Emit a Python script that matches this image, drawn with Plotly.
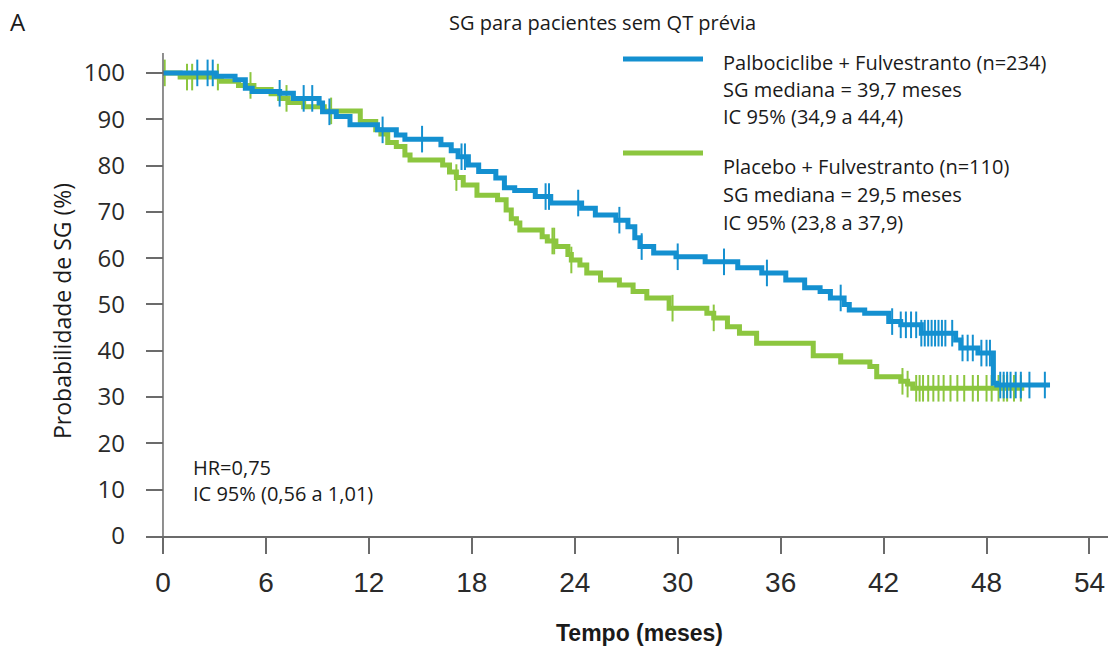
import numpy as np
import plotly.graph_objects as go

# ---- data ----
palbo_t = [0, 3.1, 4.2, 4.8, 5.2, 6.8, 7.6, 9.1, 9.3, 10.1, 10.9, 12.5, 13.6, 14.1, 16.2, 16.8,
           17.2, 17.8, 18.4, 19.4, 19.9, 20.5, 21.7, 22.6, 24.4, 25.2, 26.4, 27.1, 27.5, 27.8,
           28.6, 29.9, 31.6, 33.5, 34.9, 36.3, 37.4, 38.3, 38.9, 39.7, 40.0, 40.9, 42.3, 43.0,
           44.2, 46.2, 46.5, 47.5, 48.4, 48.6, 51.7]
palbo_s = [100, 99.3, 98.5, 96.7, 96.0, 95.6, 94.5, 93.5, 91.6, 90.6, 88.8, 87.7, 86.6, 85.7, 84.5, 83.2,
           81.9, 80.1, 78.7, 77.3, 75.2, 74.6, 73.3, 71.9, 70.8, 69.3, 68.2, 66.8, 64.4, 62.5,
           61.1, 60.3, 59.2, 57.9, 56.8, 55.3, 53.6, 52.8, 51.4, 50.0, 48.8, 48.1, 46.3, 45.6,
           43.8, 42.3, 40.6, 39.5, 33.0, 32.6, 32.6]
palbo_cens = [2.0, 2.6, 2.9, 6.8, 8.2, 8.7, 9.7, 12.8, 15.1, 17.4, 17.6, 22.3, 22.5, 24.2, 26.6,
              27.9, 30.0, 32.7, 35.2, 39.5, 42.5, 43.0, 43.3, 43.6, 43.9, 44.2, 44.4, 44.6, 44.8,
              45.0, 45.2, 45.4, 45.6, 46.0, 46.6, 46.9, 47.2, 47.7, 48.0, 48.2, 48.8, 49.0, 49.2,
              49.4, 49.7, 50.0, 50.5, 51.4]

plac_t = [0, 1.0, 3.4, 4.4, 5.3, 6.3, 6.8, 7.3, 8.2, 9.4, 11.5, 12.4, 12.7, 13.1, 13.6, 14.1, 14.4,
          16.3, 16.7, 17.1, 17.5, 18.3, 19.5, 20.0, 20.3, 20.6, 20.8, 22.1, 22.4, 22.9, 23.6, 23.8,
          24.3, 24.7, 25.5, 26.6, 27.4, 28.2, 29.5, 31.7, 32.1, 32.9, 33.6, 34.6, 37.9, 39.5, 41.2,
          41.6, 43.0, 43.4, 43.7, 50.2]
plac_s = [100, 99.1, 98.2, 97.3, 96.4, 95.5, 94.5, 93.6, 92.7, 91.8, 89.5, 87.7, 86.8, 85.0, 84.1, 82.3, 81.2,
          80.1, 78.6, 77.4, 75.8, 73.6, 72.6, 70.4, 68.5, 67.6, 66.1, 64.6, 63.7, 62.5, 60.8, 59.6,
          58.5, 56.8, 55.3, 54.2, 52.8, 51.4, 49.2, 48.1, 47.1, 45.2, 43.8, 41.6, 38.9, 37.6, 36.6,
          34.4, 33.4, 32.8, 31.9, 31.9]
plac_cens = [0.1, 1.4, 1.7, 3.2, 5.1, 7.2, 9.8, 17.1, 22.7, 22.8, 23.8, 29.7, 32.1, 43.1, 43.4,
             43.9, 44.1, 44.3, 44.6, 44.9, 45.2, 45.5, 45.9, 46.3, 46.7, 47.2, 47.5, 48.0, 48.3,
             48.7, 49.0, 49.2, 49.6, 50.0]

x_ticks = [0, 6, 12, 18, 24, 30, 36, 42, 48, 54]
y_ticks = [0, 10, 20, 30, 40, 50, 60, 70, 80, 90, 100]

BLUE = "#1490d0"
GREEN = "#8cc63f"
AX = "#6b6b6b"
TXT = "#1a1a1a"

XMIN, XMAX = -0.99, 55.08
YMIN, YMAX = 0, 104.3


def step_at(ts, ss, q):
    idx = np.searchsorted(np.array(ts), np.array(q), side="right") - 1
    return np.array(ss)[idx]


fig = go.Figure()
for t, s, c, col in [(plac_t, plac_s, plac_cens, GREEN), (palbo_t, palbo_s, palbo_cens, BLUE)]:
    fig.add_trace(go.Scatter(x=t, y=s, mode="lines", line=dict(color=col, width=5, shape="hv"),
                             showlegend=False, hoverinfo="skip"))
    fig.add_trace(go.Scatter(x=c, y=step_at(t, s, c), mode="markers",
                             marker=dict(symbol="line-ns", size=19, line=dict(color=col, width=2)),
                             showlegend=False, hoverinfo="skip"))

fig.update_layout(
    width=1111, height=649,
    margin=dict(l=146, r=3, t=53, b=113),
    paper_bgcolor="white", plot_bgcolor="white",
    font=dict(family="Open Sans", color=TXT),
    xaxis=dict(range=[XMIN, XMAX], tickvals=x_ticks, ticktext=[str(v) for v in x_ticks],
               showgrid=False, zeroline=False, showline=True, linecolor=AX, linewidth=1.5,
               ticks="outside", ticklen=16, tickwidth=1.5, tickcolor=AX,
               tickfont=dict(family="Liberation Sans Narrow, Arial Narrow, sans-serif", size=28, color="#2a2a2a"),
               ticklabelstandoff=5),
    yaxis=dict(range=[YMIN, YMAX], tickvals=y_ticks, ticktext=[str(v) for v in y_ticks],
               showgrid=False, zeroline=False, showline=False,
               ticks="inside", ticklen=17, tickwidth=1.5, tickcolor=AX,
               tickfont=dict(family="Open Sans", size=24, color="#2a2a2a"),
               ticklabelstandoff=20),
)

# y axis line at x=0, extending a bit below the x axis
x0_paper = (0 - XMIN) / (XMAX - XMIN)
fig.add_shape(type="line", xref="paper", yref="paper", x0=x0_paper, x1=x0_paper,
              y0=-16 / 483, y1=1, line=dict(color=AX, width=1.5))

# legend lines
fig.add_shape(type="line", xref="paper", yref="paper", x0=(623 - 146) / 962, x1=(703 - 146) / 962,
              y0=(536 - 59) / 483, y1=(536 - 59) / 483, line=dict(color=BLUE, width=5))
fig.add_shape(type="line", xref="paper", yref="paper", x0=(623 - 146) / 962, x1=(703 - 146) / 962,
              y0=(536 - 153) / 483, y1=(536 - 153) / 483, line=dict(color=GREEN, width=5))


def px_ann(text, x, y, size, xanchor="left", yanchor="middle", **kw):
    fig.add_annotation(text=text, xref="paper", yref="paper",
                       x=(x - 146) / 962, y=(536 - y) / 483,
                       xanchor=xanchor, yanchor=yanchor, showarrow=False,
                       font=dict(size=size, color=TXT, family=kw.pop("family", "Open Sans")), **kw)


legend_lines = [
    ("Palbociclibe + Fulvestranto (n=234)", 63),
    ("SG mediana = 39,7 meses", 90),
    ("IC 95% (34,9 a 44,4)", 117),
    ("Placebo + Fulvestranto (n=110)", 166),
    ("SG mediana = 29,5 meses", 194),
    ("IC 95% (23,8 a 37,9)", 222),
]
for txt, y in legend_lines:
    px_ann(txt, 721, y, 20)

px_ann("HR=0,75", 191, 467, 20)
px_ann("IC 95% (0,56 a 1,01)", 191, 493, 20)
px_ann("SG para pacientes sem QT prévia", 602, 22, 20, xanchor="center")
px_ann("A", 8, 21, 24)
px_ann("Probabilidade de SG (%)", 62, 311, 23, xanchor="center", textangle=-90)
px_ann("<b>Tempo (meses)</b>", 639, 633, 23, xanchor="center",
       family="Liberation Sans Narrow, Arial Narrow, sans-serif")

fig.write_html("out.html")
